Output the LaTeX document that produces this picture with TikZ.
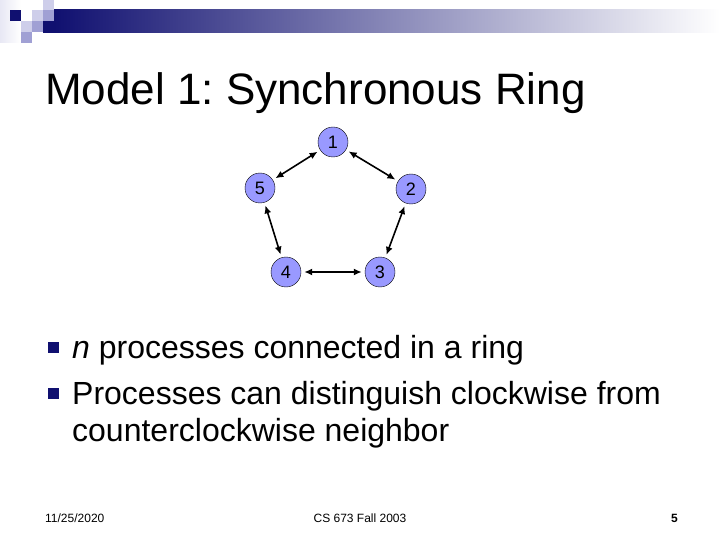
\documentclass[tikz,border=0pt]{standalone}
\usepackage{fontspec}
\setmainfont{Liberation Sans}
\usetikzlibrary{arrows.meta}
\frenchspacing
\definecolor{lacivert}{RGB}{16,16,112}
\definecolor{lavanta}{RGB}{153,153,255}
\definecolor{acik}{RGB}{206,206,234}
\definecolor{orta}{RGB}{160,160,212}
\definecolor{soluk}{RGB}{232,232,244}
\definecolor{gri}{RGB}{168,168,190}

\begin{document}
\begin{tikzpicture}[x=1pt, y=-1pt,
  proc/.style={circle, draw=black, fill=lavanta, minimum size=30pt, inner sep=0pt,
    font=\fontsize{18}{20}\selectfont},
  link/.style={{Latex[length=8pt,width=7pt]}-{Latex[length=8pt,width=7pt]},
    line width=1.6pt, shorten <=3pt, shorten >=3pt},
  madde/.style={fill=lacivert, minimum size=11pt, inner sep=0pt},
  metin/.style={anchor=base west, inner sep=0pt, font=\fontsize{32}{38}\selectfont},
  alt/.style={inner sep=0pt, font=\fontsize{12}{14}\selectfont}]
  \useasboundingbox (0,0) rectangle (720,540);

  % --- title bar and corner squares ---
  \shade[left color=soluk, right color=white] (0,0) rectangle (21,43);
  \shade[left color=lacivert, middle color=gri, right color=white] (54,10) rectangle (720,33);
  \fill[lacivert] (43,21) rectangle (54,33);
  \foreach \a/\b/\renk in {10/10/lacivert, 32/10/acik, 43/0/acik, 43/10/orta,
                           21/21/acik, 32/21/orta, 21/32/orta} {
    \fill[\renk] (\a,\b) rectangle ++(11,11);
  }

  \node[anchor=base west, inner sep=0pt, font=\fontsize{44}{50}\selectfont]
    (baslik) at (45,105) {Model 1: Synchronous Ring};

  % --- ring of processes ---
  \node[proc] (p1) at (333,142) {1};
  \node[proc] (p2) at (411,189) {2};
  \node[proc] (p3) at (380,272) {3};
  \node[proc] (p4) at (286,272) {4};
  \node[proc] (p5) at (260,188) {5};

  \foreach \u/\v in {p1/p2, p2/p3, p3/p4, p4/p5, p5/p1}
    \draw[link] (\u) -- (\v);

  % --- bullets ---
  \node[madde] (m1) at (53,347) {};
  \node[madde] (m2) at (53,393) {};
  \node[metin] (t1) at (72,358) {\textit{n} processes connected in a ring};
  \node[metin] (t2) at (72,404) {Processes can distinguish clockwise from};
  \node[metin] (t3) at (72,441) {counterclockwise neighbor};

  % --- footer ---
  \node[alt, anchor=base west] (tarih) at (45,522) {11/25/2020};
  \node[alt, anchor=base] (ders) at (360,522) {CS 673 Fall 2003};
  \node[alt, anchor=base east, font=\fontsize{12}{14}\bfseries] (sayfa) at (678,522) {5};
\end{tikzpicture}
\end{document}
